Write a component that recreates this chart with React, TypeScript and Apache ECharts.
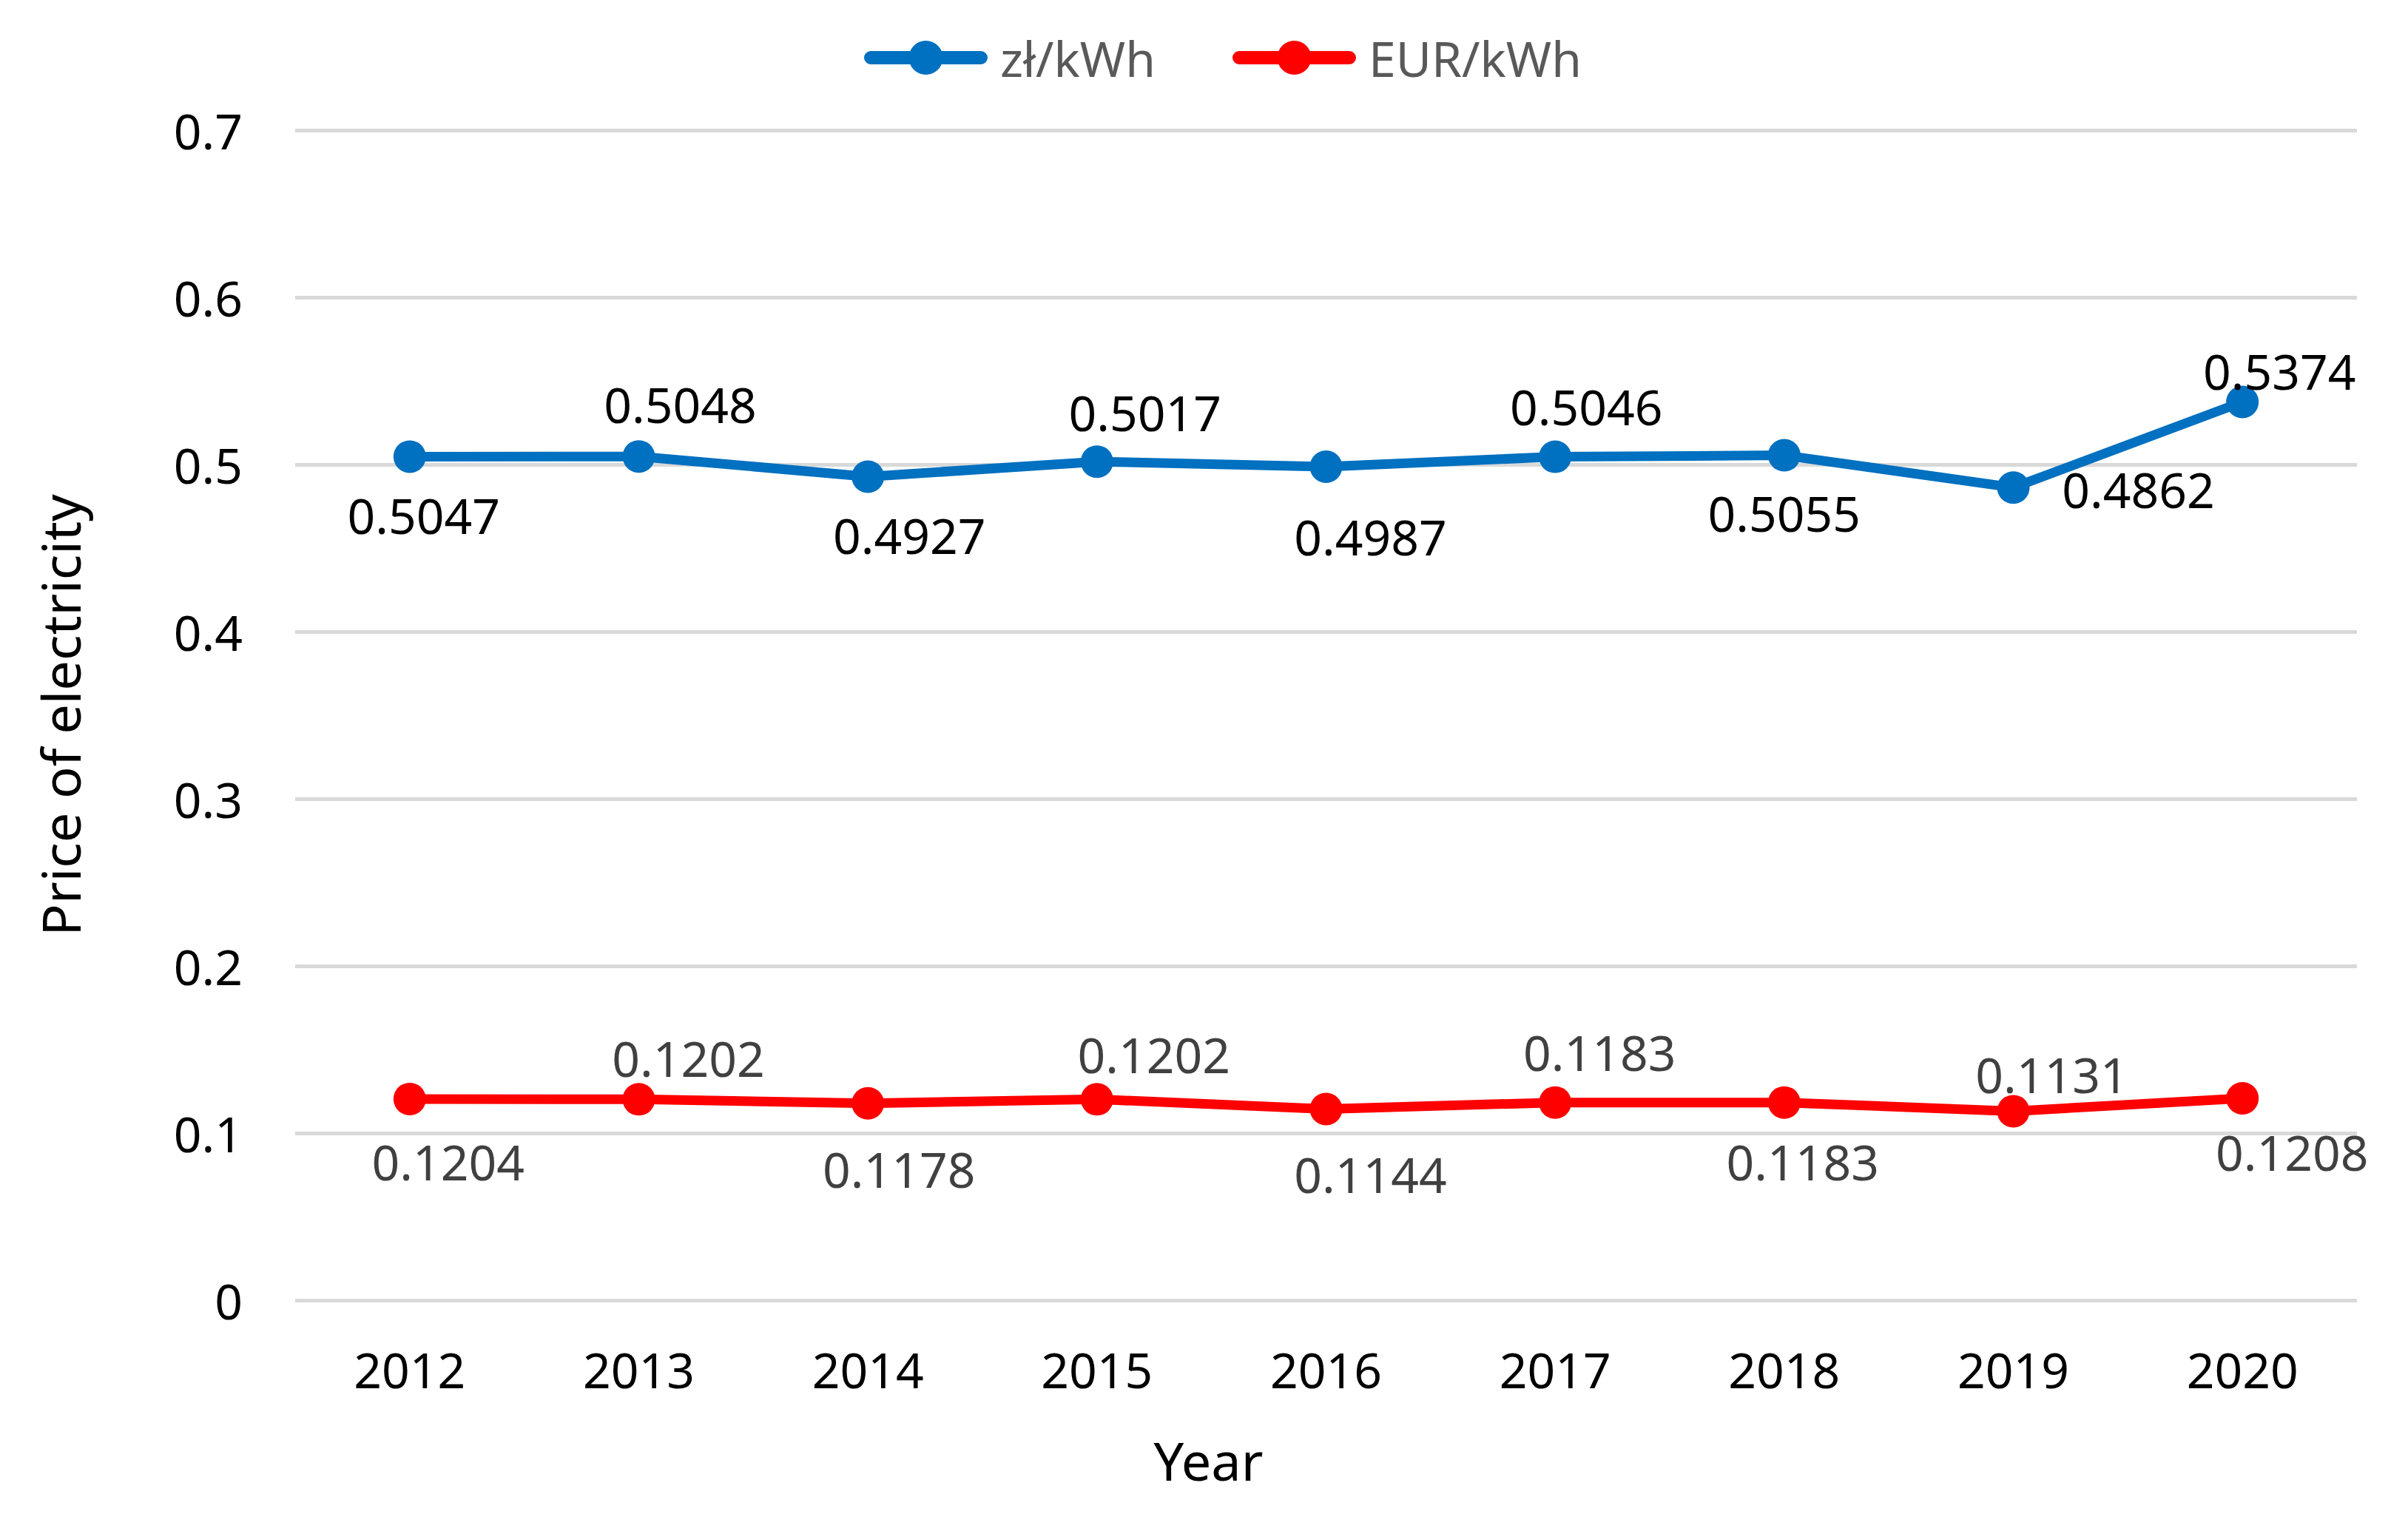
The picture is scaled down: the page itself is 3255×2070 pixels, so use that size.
import React, { useEffect, useRef } from "react";
import * as echarts from "echarts";

const years = ["2012", "2013", "2014", "2015", "2016", "2017", "2018", "2019", "2020"];
const zlPerKWh = [0.5047, 0.5048, 0.4927, 0.5017, 0.4987, 0.5046, 0.5055, 0.4862, 0.5374];
const eurPerKWh = [0.1204, 0.1202, 0.1178, 0.1202, 0.1144, 0.1183, 0.1183, 0.1131, 0.1208];
const seriesNames = ["zł/kWh", "EUR/kWh"];

// label placement (pixel offsets from each marker centre)
const zlLabelOffsets = [[19, 79], [56, -71], [56, 79], [65, -67], [60, 94], [42, -69], [0, 77], [169, 2], [50, -42]];
const eurLabelOffsets = [[52, 84], [67, -56], [42, 88], [77, -61], [60, 88], [60, -69], [25, 79], [52, -50], [67, 72]];

const FONT = "'Noto Sans', 'Open Sans', sans-serif";

// legend icon: thick rounded line with a circle marker in the middle (167 x 46 box)
const LEGEND_ICON =
  "path://M9,14 L158,14 A9,9 0 0 1 158,32 L9,32 A9,9 0 0 1 9,14 Z " +
  "M60.5,23 A23,23 0 1 1 106.5,23 A23,23 0 1 1 60.5,23 Z";

export default function App() {
  const ref = useRef<HTMLDivElement>(null);
  useEffect(() => {
    document.body.style.margin = "0";
    if (!ref.current) return;
    const chart = echarts.init(ref.current, null, { renderer: "svg" });
    const mk = (vals: number[], offs: number[][]) =>
      vals.map((v, i) => ({
        value: v,
        label: { offset: offs[i] },
      }));
    chart.setOption({
      animation: false,
      backgroundColor: "#ffffff",
      textStyle: { fontFamily: FONT },
      legend: {
        left: 1163,
        top: 40,
        icon: LEGEND_ICON,
        itemWidth: 167,
        itemHeight: 46,
        itemGap: 104,
        textStyle: { fontSize: 66, color: "#595959", fontFamily: FONT, padding: [0, 0, 0, 12] },
        data: seriesNames,
      },
      grid: { left: 399, right: 69, top: 176, bottom: 312, containLabel: false },
      xAxis: {
        type: "category",
        data: years,
        boundaryGap: true,
        axisLine: { show: false },
        axisTick: { show: false },
        axisLabel: { fontSize: 66, color: "#000000", margin: 60, fontFamily: FONT },
        name: "Year",
        nameLocation: "middle",
        nameGap: 180,
        nameTextStyle: { fontSize: 72, color: "#000000", fontFamily: FONT, padding: [0, 318, 0, 0] },
      },
      yAxis: {
        type: "value",
        min: 0,
        max: 0.7,
        interval: 0.1,
        axisLine: { show: false },
        axisTick: { show: false },
        axisLabel: { fontSize: 66, color: "#000000", margin: 71, fontFamily: FONT },
        splitLine: { lineStyle: { color: "#D9D9D9", width: 5 } },
        name: "Price of electricity",
        nameLocation: "middle",
        nameGap: 282,
        nameTextStyle: { fontSize: 72, color: "#000000", fontFamily: FONT },
      },
      series: [
        {
          name: seriesNames[0],
          type: "line",
          data: mk(zlPerKWh, zlLabelOffsets),
          symbol: "circle",
          symbolSize: 44,
          lineStyle: { color: "#0070C0", width: 13 },
          itemStyle: { color: "#0070C0" },
          label: {
            show: true,
            position: "inside",
            fontSize: 66,
            color: "#000000",
            fontFamily: FONT,
            formatter: (p: any) => String(p.value),
          },
          z: 3,
        },
        {
          name: seriesNames[1],
          type: "line",
          data: mk(eurPerKWh, eurLabelOffsets),
          symbol: "circle",
          symbolSize: 44,
          lineStyle: { color: "#FF0000", width: 13 },
          itemStyle: { color: "#FF0000" },
          label: {
            show: true,
            position: "inside",
            fontSize: 66,
            color: "#404040",
            fontFamily: FONT,
            formatter: (p: any) => String(p.value),
          },
          z: 3,
        },
      ],
    });
    return () => chart.dispose();
  }, []);
  return <div ref={ref} style={{ width: 3255, height: 2070 }} />;
}
